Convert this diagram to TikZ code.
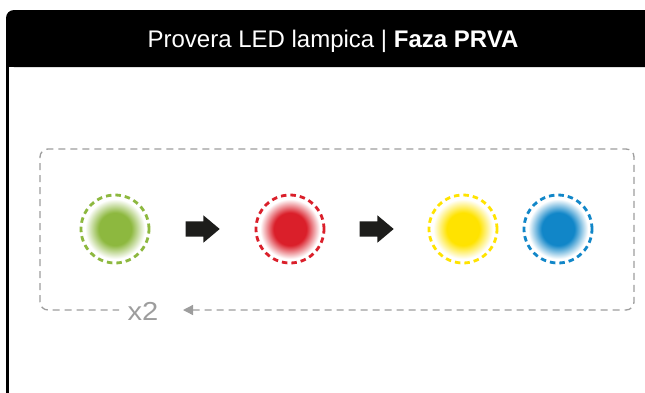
\documentclass[tikz,border=0pt]{standalone}
\usepackage{fontspec}
\setmainfont{Liberation Sans}
\usetikzlibrary{shapes.arrows,arrows.meta,calc}
\definecolor{ledgreen}{HTML}{8DB83F}
\definecolor{ledred}{HTML}{DA1F2A}
\definecolor{ledyellow}{HTML}{FFE300}
\definecolor{ledblue}{HTML}{1186C8}
\definecolor{framegray}{HTML}{9D9D9D}
\definecolor{arrowblack}{HTML}{1D1D1B}
\pgfdeclareradialshading{glowgreen}{\pgfpoint{0bp}{0bp}}{color(0bp)=(ledgreen);color(12bp)=(ledgreen);color(22bp)=(white);color(50bp)=(white)}
\pgfdeclareradialshading{glowred}{\pgfpoint{0bp}{0bp}}{color(0bp)=(ledred);color(12bp)=(ledred);color(22bp)=(white);color(50bp)=(white)}
\pgfdeclareradialshading{glowyellow}{\pgfpoint{0bp}{0bp}}{color(0bp)=(ledyellow);color(12bp)=(ledyellow);color(22bp)=(white);color(50bp)=(white)}
\pgfdeclareradialshading{glowblue}{\pgfpoint{0bp}{0bp}}{color(0bp)=(ledblue);color(12bp)=(ledblue);color(22bp)=(white);color(50bp)=(white)}
\tikzset{
  led/.style={circle, minimum size=68pt, inner sep=0pt, line width=2.8pt,
    dash pattern=on 5.5pt off 4pt},
  blockarrow/.style={single arrow, fill=arrowblack, draw=none, minimum height=34pt,
    inner xsep=0pt, inner ysep=7.5pt, single arrow head extend=6pt,
    single arrow tip angle=80, anchor=west, xshift=-17pt},
  frame/.style={draw=framegray, line width=1.3pt, dash pattern=on 7pt off 5pt},
}
\begin{document}
\begin{tikzpicture}[x=1pt,y=-1pt]
\useasboundingbox (0,0) rectangle (645,392);
% header and border
\fill[black, rounded corners=8pt] (6,10) -- (660,10) -- (660,67) -- (6,67) -- cycle;
\fill[black] (6,40) rectangle (660,67);
\fill[black] (6,60) rectangle (8.5,400);
\node[text=white, anchor=base, inner sep=0pt, font=\fontsize{24}{28}\selectfont] (title) at (333,47) {Provera LED lampica | \textbf{Faza PRVA}};
% LEDs
\node[led, shading=glowgreen, draw=ledgreen] (g) at (115,229) {};
\node[led, shading=glowred, draw=ledred] (r) at (290,229) {};
\node[led, shading=glowyellow, draw=ledyellow] (y) at (463,229) {};
\node[led, shading=glowblue, draw=ledblue] (b) at (558,229) {};
% block arrows
\node[blockarrow] (a1) at ($(g)!0.5!(r)$) {};
\node[blockarrow] (a2) at ($(r)!0.5!(y)$) {};
% frame loop
\coordinate (tip) at (183,310);
\coordinate (gapend) at (119,310);
\draw[frame, rounded corners=8pt, {Triangle[length=10pt,width=10pt,fill=framegray]}-]
  (tip) -- (634,310) -- (634,149) -- (40,149) -- (40,310) -- (gapend);
\node[text=framegray, anchor=base, inner sep=0pt, font=\fontsize{26}{28}\selectfont] (x2) at (143,320) {\scalebox{1.12}[1]{x2}};
\end{tikzpicture}
\end{document}
